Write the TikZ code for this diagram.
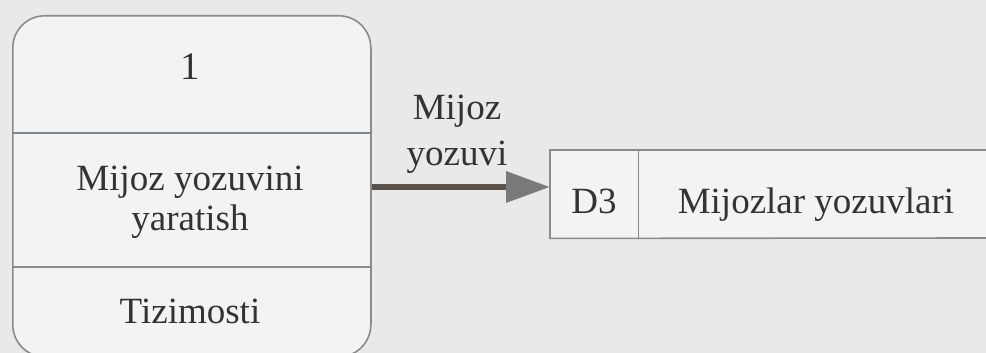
\documentclass[tikz,border=0pt]{standalone}
\usepackage{fontspec}
\setmainfont{Liberation Serif}
\usetikzlibrary{arrows.meta}
\definecolor{paper}{HTML}{E9E9E9}
\definecolor{inner}{HTML}{F3F3F3}
\definecolor{ink}{HTML}{353331}
\definecolor{edgec}{HTML}{8A8A8A}
\definecolor{rightc}{HTML}{9A8C74}
\definecolor{divc}{HTML}{7E8893}
\definecolor{flowc}{HTML}{5A524B}
\definecolor{headc}{HTML}{7A7A7A}
\begin{document}
\begin{tikzpicture}[x=1pt,y=-1pt,
  txt/.style={text=ink,font=\fontsize{37}{44}\selectfont,inner sep=0pt,anchor=base},
  procbox/.style={draw=edgec,line width=1.6pt,fill=inner,rounded corners=32pt,inner sep=0pt},
  storeline/.style={draw=edgec,line width=1.6pt},
  flow/.style={draw=flowc,line width=6.5pt,-{Triangle[length=44pt,width=30pt,fill=headc,color=headc]}}]
\useasboundingbox (0,0) rectangle (986,353);
\fill[paper] (0,0) rectangle (986,353);
% process box
\node[procbox,minimum width=358pt,minimum height=341pt,anchor=north west] (proc) at (12,15) {};
\draw[storeline,draw=rightc] ([yshift=-34pt]proc.north east) -- ([yshift=34pt]proc.south east);
\draw[storeline,draw=divc] (proc.west |- 0,133) -- (proc.east |- 0,133);
\draw[storeline] (proc.west |- 0,267) -- (proc.east |- 0,267);
\node[txt,font=\fontsize{39}{44}\selectfont] (num) at (190,80) {1};
\node[txt] (name1) at (190,190) {Mijoz yozuvini};
\node[txt] (name2) at (190,230) {yaratish};
\node[txt] (sub) at (190,323) {Tizimosti};
% data store
\fill[inner] (550,150) rectangle (990,238);
\node[minimum width=88pt,minimum height=88pt,inner sep=0pt,anchor=north west] (d3) at (550,150) {};
\coordinate (sr1) at (990,150);
\coordinate (sr2) at (990,238);
\draw[storeline] (sr1) -- (d3.north west) -- (d3.south west) -- (sr2);
\draw[storeline,draw=divc] (d3.north east) -- (d3.south east);
\node[txt] (d3t) at (594,213) {D3};
\node[txt] (storet) at (816,213) {Mijozlar yozuvlari};
% flow
\coordinate (tip) at (550,187);
\draw[flow] (proc.east |- tip) -- (tip);
\node[txt,align=center] (lab1) at (457,120) {Mijoz};
\node[txt,align=center] (lab2) at (457,165) {yozuvi};
\end{tikzpicture}
\end{document}
